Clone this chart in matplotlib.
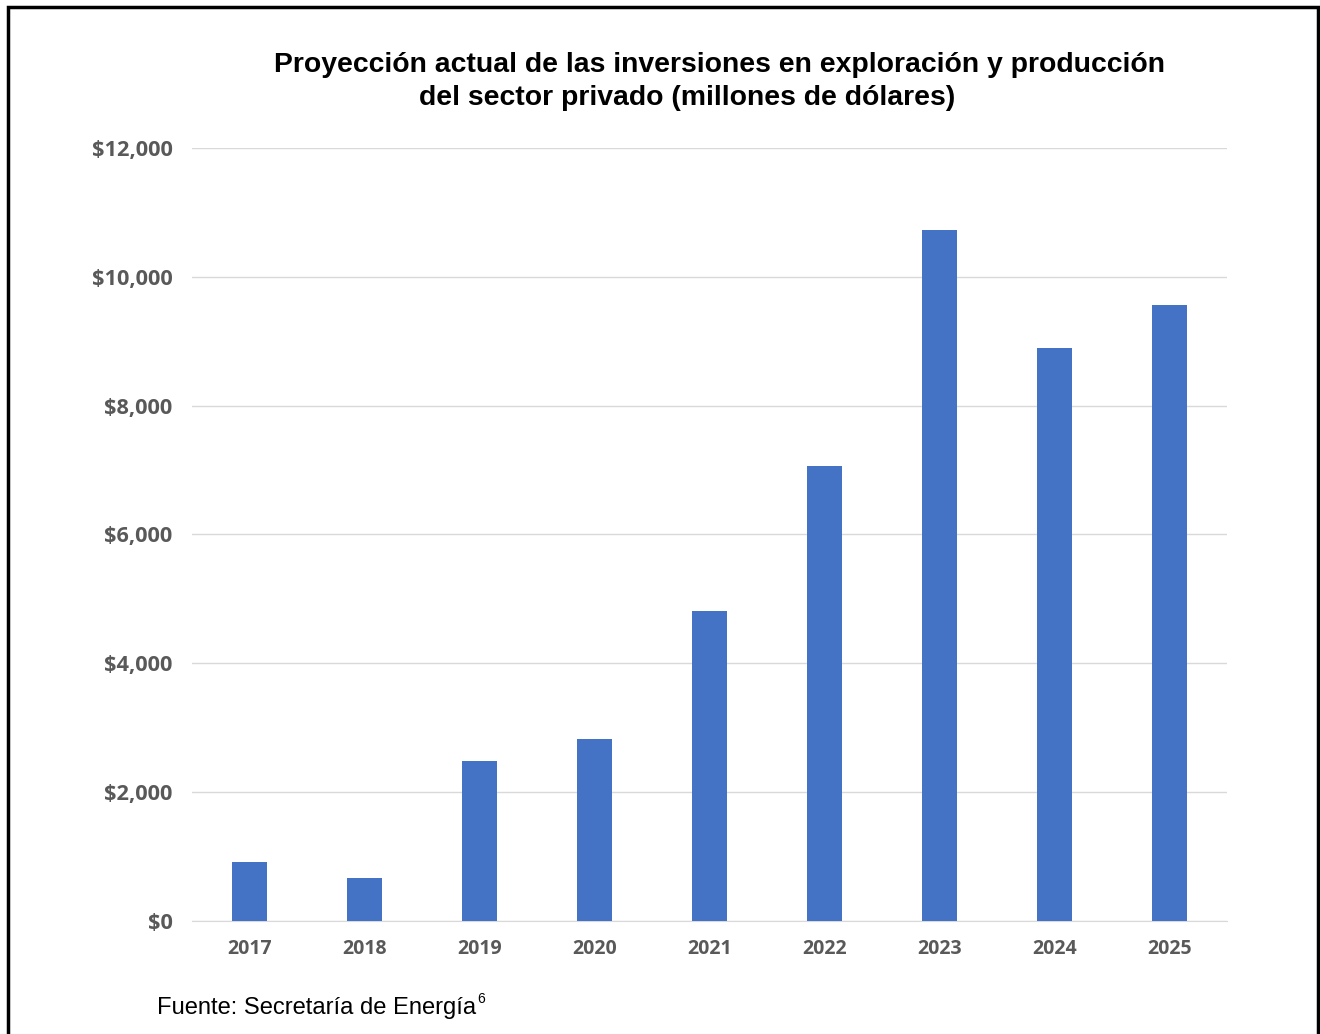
import matplotlib.pyplot as plt
from matplotlib.patches import Rectangle
from matplotlib.ticker import FuncFormatter

# Inversiones proyectadas (millones de dólares)
years = ["2017", "2018", "2019", "2020", "2021", "2022", "2023", "2024", "2025"]
investment = [915, 670, 2485, 2825, 4810, 7065, 10725, 8895, 9560]

title_line1 = "Proyección actual de las inversiones en exploración y producción"
title_line2 = "del sector privado (millones de dólares)"
source_text = "Fuente: Secretaría de Energía"

fig = plt.figure(figsize=(13.2, 10.34), dpi=100)
ax = fig.add_axes([0.1455, 0.1093, 0.784, 0.7476])

x = range(len(years))
ax.bar(x, investment, width=0.31, color="#4472C4", zorder=3)

ax.set_xlim(-0.5, len(years) - 0.5)
ax.set_ylim(0, 12000)
ax.set_yticks(range(0, 12001, 2000))
ax.yaxis.set_major_formatter(FuncFormatter(lambda v, p: f"${v:,.0f}"))
ax.set_xticks(list(x))
ax.set_xticklabels(years)

ax.grid(axis="y", color="#d9d9d9", linewidth=1, zorder=0)
for side in ["top", "right", "left"]:
    ax.spines[side].set_visible(False)
ax.spines["bottom"].set_color("#d9d9d9")
ax.tick_params(length=0)
ax.tick_params(axis="x", pad=13)
ax.tick_params(axis="y", pad=14)
for lbl in ax.get_xticklabels():
    lbl.set_fontfamily("Open Sans")
    lbl.set_fontweight("bold")
    lbl.set_fontsize(14)
    lbl.set_color("#595959")
for lbl in ax.get_yticklabels():
    lbl.set_fontfamily("Open Sans")
    lbl.set_fontweight("bold")
    lbl.set_fontsize(15.7)
    lbl.set_color("#595959")

# title in two lines
fig.text(720 / 1320, 1 - 65 / 1034, title_line1, ha="center", va="center",
         fontsize=20.4, fontweight="bold", family="Liberation Sans")
fig.text(687 / 1320, 1 - 98 / 1034, title_line2, ha="center", va="center",
         fontsize=20.4, fontweight="bold", family="Liberation Sans")

# source with footnote mark right after it
src = fig.text(157 / 1320, 1 - 1008 / 1034, source_text, ha="left", va="center",
               fontsize=17.1, family="Liberation Sans")
fig.canvas.draw()
bb = src.get_window_extent()
fig.text((bb.x1 + 1) / 1320, 1 - 999 / 1034, "6", ha="left", va="center",
         fontsize=10, family="Liberation Sans")

# frame around the figure
fig.patches.append(Rectangle((8 / 1320, -0.05), 1310 / 1320, 1.05 - 7 / 1034,
                             transform=fig.transFigure, fill=False,
                             edgecolor="black", linewidth=2.5))

fig.savefig("out.png", dpi=100)
